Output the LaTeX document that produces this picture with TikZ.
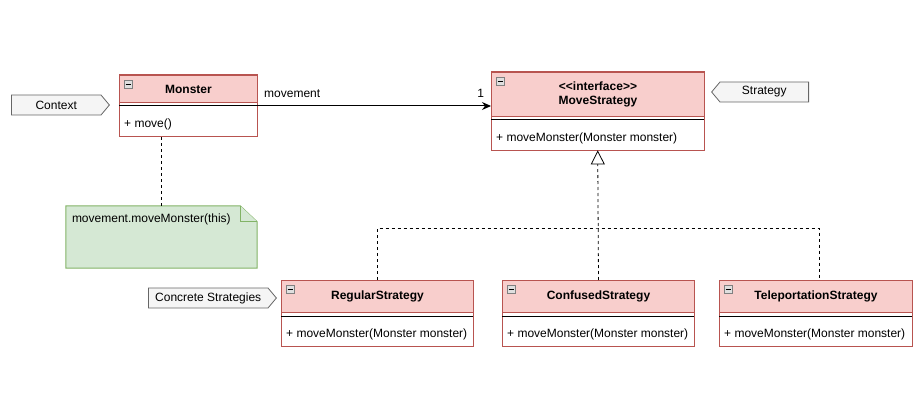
\documentclass[tikz,border=0pt]{standalone}
\usepackage{fontspec}
\setmainfont{Liberation Sans}
\usetikzlibrary{shapes.symbols,arrows.meta,backgrounds}

\definecolor{headfill}{HTML}{F8CECC}
\definecolor{headline}{HTML}{B85450}
\definecolor{notefill}{HTML}{D5E8D4}
\definecolor{noteline}{HTML}{82B366}
\definecolor{tagfill}{HTML}{F5F5F5}
\definecolor{tagline}{HTML}{666666}

\tikzset{
  classhead/.style={rectangle, draw=headline, fill=headfill, line width=1pt,
    anchor=north west, inner sep=0pt, align=center, font=\fontsize{12}{14}\selectfont\bfseries},
  classops/.style={rectangle, anchor=north west, inner xsep=5pt, inner ysep=0pt,
    minimum height=30pt, text height=14pt, text depth=2pt, align=flush left},
  classline/.style={draw=headline, line width=1pt},
  sepline/.style={draw=black, line width=1pt},
  togglebox/.style={draw=gray, fill=gray!25, line width=0.6pt},
  tagbox/.style={signal, draw=tagline, fill=tagfill, line width=0.8pt,
    minimum height=20pt, inner sep=0pt, signal pointer angle=100},
  notebox/.style={draw=noteline, fill=notefill, line width=1pt},
  assoc/.style={draw=black, line width=1pt, -{Stealth[length=9pt, width=8pt]}},
  depline/.style={draw=black, line width=0.8pt, dash pattern=on 3pt off 3pt},
  realize/.style={depline, -{Triangle[open, length=14pt, width=14pt, fill=white]}}
}

\begin{document}
\begin{tikzpicture}[x=1pt, y=-1pt, font=\fontsize{12}{14}\selectfont]

    \useasboundingbox (0,0) rectangle (924,401);

    % Classes
    \node[classhead, minimum width=138pt, minimum height=27pt] (mon) at (119,75) {Monster};
    \node[classops, text width=128pt] (mon-ops) at ([yshift=-3pt]mon.south west) {+ move()};

    \node[classhead, minimum width=213pt, minimum height=44pt] (ms) at (491,72)
        {<\kern0pt<interface>\kern0pt>\\MoveStrategy};
    \node[classops, text width=203pt] (ms-ops) at ([yshift=-3pt]ms.south west) {+ moveMonster(Monster monster)};

    \node[classhead, minimum width=192pt, minimum height=32pt] (reg) at (281,280) {RegularStrategy};
    \node[classops, text width=182pt] (reg-ops) at ([yshift=-3pt]reg.south west) {+ moveMonster(Monster monster)};

    \node[classhead, minimum width=192pt, minimum height=32pt] (conf) at (502,280) {ConfusedStrategy};
    \node[classops, text width=182pt] (conf-ops) at ([yshift=-3pt]conf.south west) {+ moveMonster(Monster monster)};

    \node[classhead, minimum width=193pt, minimum height=32pt] (tel) at (719,280) {TeleportationStrategy};
    \node[classops, text width=183pt] (tel-ops) at ([yshift=-3pt]tel.south west) {+ moveMonster(Monster monster)};

    \foreach \c in {mon,ms,reg,conf,tel} {
        \draw[classline] (\c.north west) rectangle (\c-ops.south east);
        \draw[sepline] (\c-ops.north west) -- (\c-ops.north east);
        \draw[togglebox] ([shift={(5,5)}]\c.north west) rectangle ++(8,8);
        \draw[line width=0.8pt] ([shift={(6.5,9)}]\c.north west) -- ++(5,0);
    }

    % Tags
    \node[tagbox, signal to=east, minimum width=98pt, anchor=west]  (ctx)   at (11,105)  {Context};
    \node[tagbox, signal to=west, minimum width=97pt, anchor=east]  (strat) at (809,92)  {Strategy};
    \node[tagbox, signal to=east, minimum width=128pt, anchor=west] (conc)  at (148,298) {Concrete Strategies};

    % Note
    \node[minimum width=191pt, minimum height=62pt, inner sep=0pt,
          label={[anchor=north west, inner xsep=6pt, inner ysep=8pt]north west:movement.moveMonster(this)}] (note) at (161.5,237) {};
    \begin{scope}[on background layer]
        \draw[notebox] (note.north west) -- ([xshift=-17pt]note.north east)
            -- ([yshift=-16pt]note.north east) -- (note.south east) -- (note.south west) -- cycle;
        \draw[notebox] ([xshift=-17pt]note.north east) |- ([yshift=-16pt]note.north east);
    \end{scope}

    % Connectors
    \draw[assoc] (mon-ops.north east) -- (ms.west |- mon-ops.north)
        node[pos=0, above right, xshift=3pt, yshift=5pt] {movement}
        node[pos=1, above left, xshift=-3pt, yshift=5pt] {1};
    \draw[depline] (note.north) -- (note.north |- mon-ops.south);

    \coordinate (jn) at (598,228);
    \draw[realize] (conf.north) -- (ms-ops.south);
    \draw[depline] (reg.north) |- (jn) -| ([xshift=3pt]tel.north);

\end{tikzpicture}
\end{document}
